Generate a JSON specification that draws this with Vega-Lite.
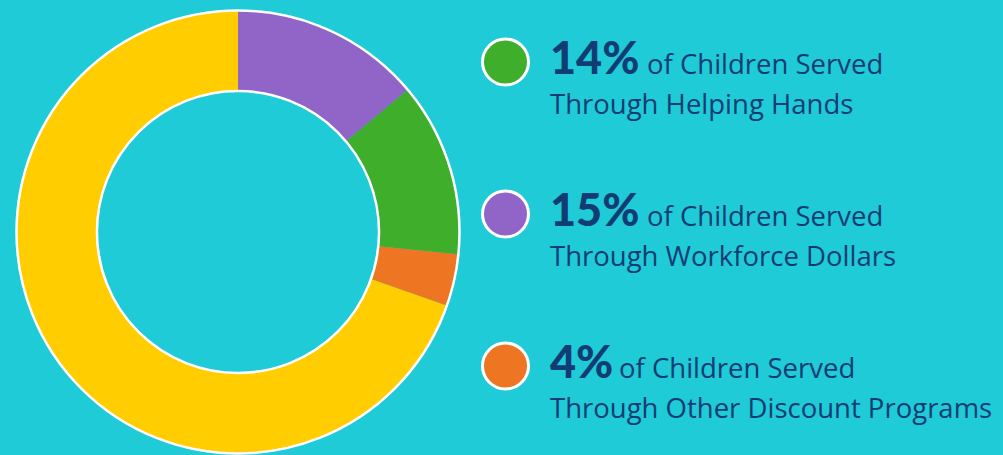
{
  "$schema": "https://vega.github.io/schema/vega-lite/v6.json",
  "background": "#1FCBD6",
  "padding": 0,
  "autosize": {"type": "pad"},
  "spacing": 0,
  "config": {"view": {"stroke": null}, "concat": {"spacing": 0}},
  "datasets": {
    "slices": [
      {"category": "Workforce Dollars", "value": 13.9, "rank": 1},
      {"category": "Helping Hands", "value": 12.7, "rank": 2},
      {"category": "Other Discount Programs", "value": 3.8, "rank": 3},
      {"category": "Other", "value": 69.6, "rank": 4}
    ],
    "legend": [
      {"category": "Helping Hands", "row": 1, "digits": 2, "pct": "14%", "lead": "of Children Served", "line2": "Through Helping Hands"},
      {"category": "Workforce Dollars", "row": 2, "digits": 2, "pct": "15%", "lead": "of Children Served", "line2": "Through Workforce Dollars"},
      {"category": "Other Discount Programs", "row": 3, "digits": 1, "pct": "4%", "lead": "of Children Served", "line2": "Through Other Discount Programs"}
    ],
    "ring": [{"whole": 1}]
  },
  "hconcat": [
    {
      "width": 476,
      "height": 464,
      "layer": [
        {
          "data": {"name": "slices"},
          "mark": {"type": "arc", "radius": 221, "radius2": 141},
          "encoding": {
            "theta": {"field": "value", "type": "quantitative", "stack": true},
            "order": {"field": "rank", "type": "quantitative"},
            "color": {
              "field": "category",
              "type": "nominal",
              "legend": null,
              "scale": {
                "domain": ["Workforce Dollars", "Helping Hands", "Other Discount Programs", "Other"],
                "range": ["#9165C8", "#3EAE2B", "#EE7623", "#FFCD00"]
              }
            }
          }
        },
        {
          "data": {"name": "ring"},
          "mark": {"type": "arc", "radius": 221.5, "radius2": 141, "fillOpacity": 0, "stroke": "#FFFFFF", "strokeWidth": 2.5},
          "encoding": {
            "theta": {"field": "whole", "type": "quantitative"}
          }
        }
      ],
      "resolve": {"scale": {"theta": "independent"}}
    },
    {
      "width": 527,
      "height": 455,
      "data": {"name": "legend"},
      "encoding": {
        "y": {
          "field": "row",
          "type": "quantitative",
          "axis": null,
          "scale": {"domain": [1, 3], "range": [62, 366], "zero": false, "nice": false}
        }
      },
      "layer": [
        {
          "mark": {"type": "point", "filled": true, "shape": "circle", "size": 2116, "stroke": "#FFFFFF", "strokeWidth": 3, "opacity": 1},
          "encoding": {
            "x": {"datum": 29.5, "type": "quantitative", "axis": null, "scale": {"domain": [0, 527], "range": [0, 527]}},
            "color": {
              "field": "category",
              "type": "nominal",
              "legend": null,
              "scale": {
                "domain": ["Workforce Dollars", "Helping Hands", "Other Discount Programs", "Other"],
                "range": ["#9165C8", "#3EAE2B", "#EE7623", "#FFCD00"]
              }
            }
          }
        },
        {
          "mark": {"type": "text", "align": "left", "baseline": "alphabetic", "dy": 11.5, "font": "Lato", "fontWeight": 900, "fontSize": 45, "color": "#123C74"},
          "encoding": {
            "x": {"datum": 74, "type": "quantitative", "axis": null, "scale": {"domain": [0, 527], "range": [0, 527]}},
            "text": {"field": "pct"}
          }
        },
        {
          "mark": {"type": "text", "align": "left", "baseline": "alphabetic", "dy": 11.5, "font": "Open Sans", "fontSize": 27.5, "color": "#123C74"},
          "encoding": {
            "x": {"field": "digits", "type": "quantitative", "axis": null, "scale": {"domain": [1, 2], "range": [143, 171], "zero": false, "nice": false}},
            "text": {"field": "lead"}
          }
        },
        {
          "mark": {"type": "text", "align": "left", "baseline": "alphabetic", "dy": 51.5, "font": "Open Sans", "fontSize": 27.5, "color": "#123C74"},
          "encoding": {
            "x": {"datum": 74, "type": "quantitative", "axis": null, "scale": {"domain": [0, 527], "range": [0, 527]}},
            "text": {"field": "line2"}
          }
        }
      ],
      "resolve": {"scale": {"x": "independent"}}
    }
  ]
}
